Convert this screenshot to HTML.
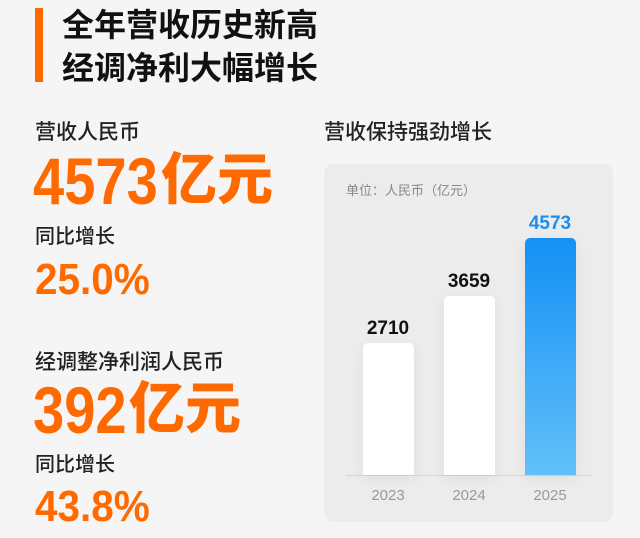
<!DOCTYPE html>
<html><head><meta charset="utf-8"><style>
body{margin:0;width:640px;height:538px;background:#f5f5f5;overflow:hidden;position:relative;font-family:"Liberation Sans","Noto Sans CJK SC",sans-serif}
.a{position:absolute;white-space:nowrap;line-height:1}
.o{color:#ff6a00;font-weight:900}
.n{display:inline-block;transform:scaleX(.85);transform-origin:left}
.p{display:inline-block;transform:scaleX(.92);transform-origin:left}
.bar{position:absolute;width:51px;background:#fff;border-radius:5px 5px 0 0;box-shadow:0 4px 14px rgba(0,0,0,.06)}
.v{position:absolute;width:80px;text-align:center;font-weight:900;font-size:19px;line-height:1}
.y{position:absolute;width:80px;text-align:center;color:#999;font-size:15px;line-height:1}
</style></head><body>
<div style="position:absolute;left:35px;top:8px;width:8px;height:74px;background:#ff6a00"></div>
<div class="a" style="left:62px;top:9px;font-size:32px;font-weight:bold;color:#111">全年营收历史新高</div>
<div class="a" style="left:62px;top:52px;font-size:32px;font-weight:bold;color:#111">经调净利大幅增长</div>

<div class="a" style="left:35px;top:122px;font-size:21px;color:#222;font-weight:500">营收人民币</div>
<div class="a o" style="left:33px;top:148px;height:60px"><span class="n" style="font-size:66px;width:128px">4573</span><span style="font-size:56px;vertical-align:top;position:relative;top:4px">亿元</span></div>
<div class="a" style="left:35px;top:227px;font-size:20px;color:#222;font-weight:500">同比增长</div>
<div class="a o" style="left:35px;top:258px;font-size:44px"><span class="p">25.0%</span></div>

<div class="a" style="left:35px;top:352px;font-size:21px;color:#222;font-weight:500">经调整净利润人民币</div>
<div class="a o" style="left:33px;top:377px;height:60px"><span class="n" style="font-size:66px;width:96px">392</span><span style="font-size:56px;vertical-align:top;position:relative;top:4px">亿元</span></div>
<div class="a" style="left:35px;top:455px;font-size:20px;color:#222;font-weight:500">同比增长</div>
<div class="a o" style="left:35px;top:485px;font-size:44px"><span class="p">43.8%</span></div>

<div class="a" style="left:324px;top:122px;font-size:21px;color:#222;font-weight:500">营收保持强劲增长</div>
<div style="position:absolute;left:324px;top:164px;width:289px;height:358px;background:#ececec;border-radius:10px"></div>
<div class="a" style="left:346px;top:184px;font-size:13px;color:#888">单位：人民币（亿元）</div>
<div style="position:absolute;left:346px;top:475px;width:246px;height:1px;background:#c6d8ea"></div>
<div class="bar" style="left:363px;top:343px;height:132px"></div>
<div class="bar" style="left:444px;top:296px;height:179px"></div>
<div class="bar" style="left:525px;top:238px;height:237px;background:linear-gradient(#1490f5,#62c0f8)"></div>
<div class="v" style="left:348px;top:319px;color:#111">2710</div>
<div class="v" style="left:429px;top:272px;color:#111">3659</div>
<div class="v" style="left:510px;top:214px;color:#1a8ff0">4573</div>
<div class="y" style="left:348px;top:488px">2023</div>
<div class="y" style="left:429px;top:488px">2024</div>
<div class="y" style="left:510px;top:488px">2025</div>
</body></html>
